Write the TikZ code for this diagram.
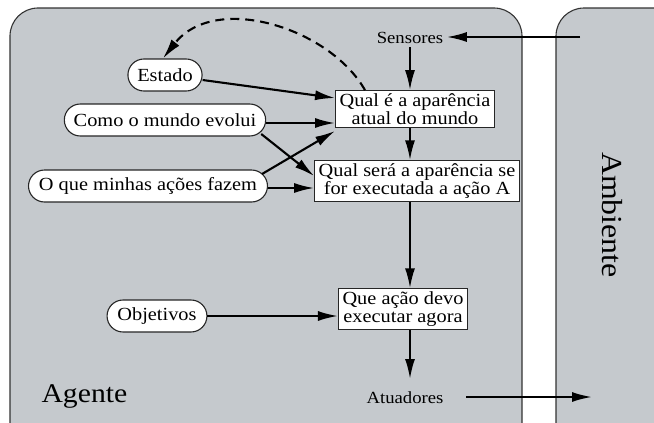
\documentclass[tikz,border=0pt]{standalone}
\usepackage{fontspec}
\setmainfont{Liberation Serif}[FakeStretch=1.1]
\usetikzlibrary{arrows.meta,shapes.misc}
\definecolor{panel}{RGB}{197,201,205}
\tikzset{
  panelbox/.style={draw=black!80, line width=1.1pt, fill=panel, rounded corners=28pt},
  pill/.style={rounded rectangle, draw=black!85, line width=1.1pt, fill=white,
    minimum height=32pt, inner xsep=8pt, font=\fontsize{18.5}{19}\selectfont},
  procbox/.style={rectangle, draw=black!85, line width=1.1pt, fill=white,
    align=center, inner xsep=4pt, inner ysep=3pt, font=\fontsize{18.5}{17.5}\selectfont},
  plain/.style={font=\fontsize{17}{18}\selectfont},
  tip/.style={-{Latex[length=20pt,width=10pt]}},
  flow/.style={line width=2.1pt, tip},
}
\begin{document}
\begin{tikzpicture}[x=1pt,y=-1pt]
\useasboundingbox (0,0) rectangle (654,423);
\begin{scope}
\clip (0,0) rectangle (654,423);
\draw[panelbox] (10,8) rectangle (522,452);
\draw[panelbox] (556,8) rectangle (700,452);
\end{scope}

% labels of the two regions
\node[font=\fontsize{27}{30}\selectfont, anchor=base west] (agent) at (38,402) {Agente};
\node[font=\fontsize{29}{30}\selectfont, rotate=-90] (env) at (612,215) {Ambiente};

% processing boxes
\node[procbox] (now) at (415,109) {Qual é a aparência\\atual do mundo};
\node[procbox] (next) at (417,181) {Qual será a aparência se\\for executada a ação A};
\node[procbox] (act) at (403,309) {Que ação devo\\executar agora};

% sensors and actuators
\node[plain] (sens) at (410,38) {Sensores};
\node[plain] (atu) at (405,398) {Atuadores};
\coordinate (sensin) at (580,37);
\coordinate (atuout) at (466,397);
\coordinate (envin) at (592,397);

% knowledge
\node[pill] (estado) at (165,75) {Estado};
\node[pill] (como) at (165,120) {Como o mundo evolui};
\node[pill] (oque) at (148,186) {O que minhas ações fazem};
\node[pill] (obj) at (157,316) {Objetivos};

% connectors
\draw[flow] (sensin) -- (sens.east |- sensin);
\draw[flow] (sens.south -| 410,0) -- (now.north -| 410,0);
\draw[flow] (now.south -| 410,0) -- (next.north -| 410,0);
\draw[flow] (next.south -| 410,0) -- (act.north -| 410,0);
\draw[flow] (act.south -| 410,0) -- (410,379);
\draw[flow] (atuout) -- (envin);

\draw[flow] (estado.east) ++(0,5) -- (now.west |- 0,98);
\draw[flow] (como.east |- 0,123) -- (now.west |- 0,123);
\draw[flow] (como.east) ++(-5,14) -- (next.west |- 0,176);
\draw[flow] (oque.east) ++(-6,-12) -- (now.west |- 0,131);
\draw[flow] (oque.east |- 0,188) -- (next.west |- 0,188);
\draw[flow] (obj.east) -- (act.west |- obj.east);

\draw[line width=2.1pt, dashed, dash pattern=on 9pt off 6pt, tip]
  (now.north -| 365,0) .. controls (330,28) and (215,-8) .. (estado.north -| 163,0);
\end{tikzpicture}
\end{document}
